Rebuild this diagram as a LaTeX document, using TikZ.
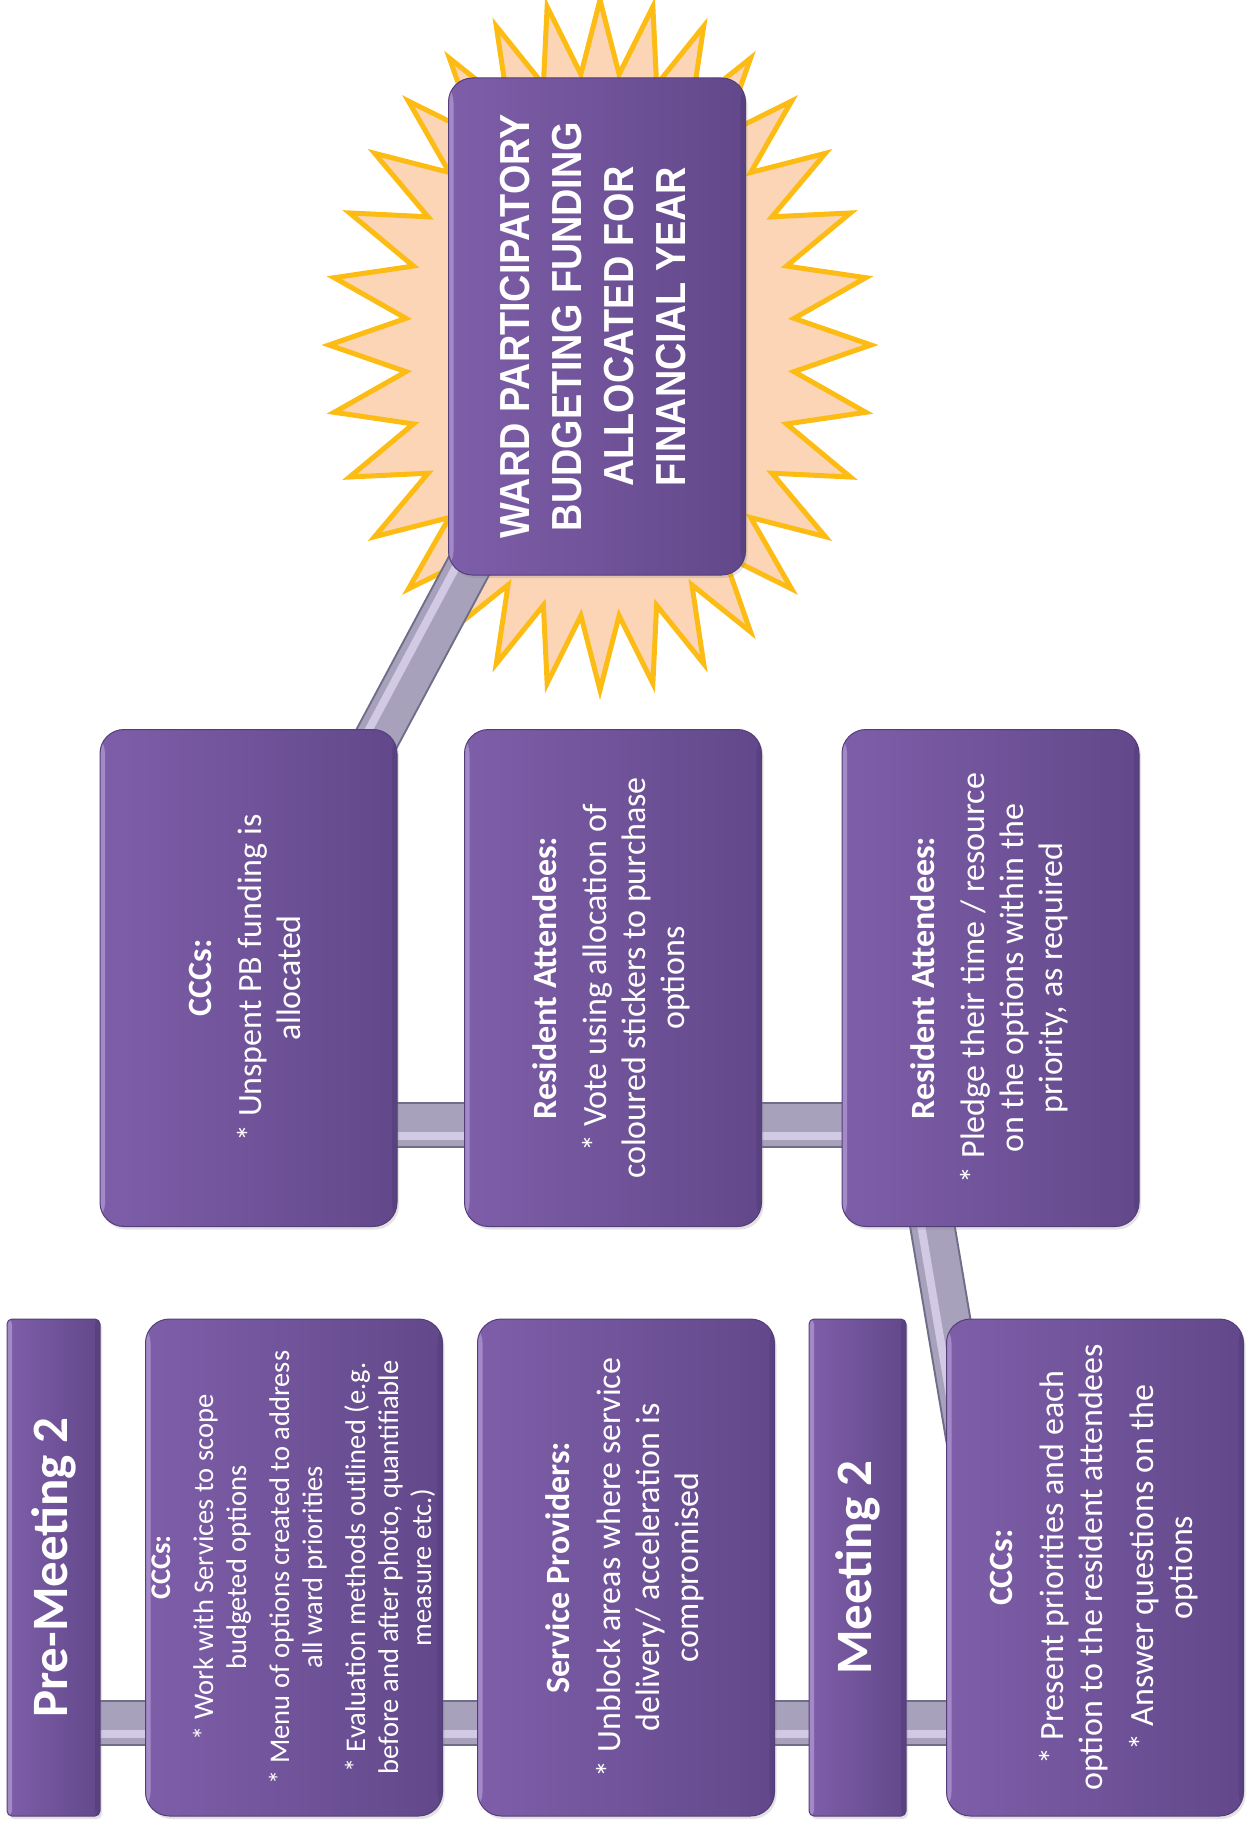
\documentclass[tikz,border=0pt]{standalone}
\usepackage{fontspec}
\setmainfont{Carlito}
\newfontfamily\titlefont{Liberation Sans}[FakeStretch=0.9]
\usetikzlibrary{calc,shadows}

\definecolor{boxlight}{RGB}{126,94,169}
\definecolor{boxdark}{RGB}{98,72,138}
\definecolor{boxedge}{RGB}{84,62,122}
\definecolor{boxhi}{RGB}{176,152,210}
\definecolor{burstfill}{RGB}{251,213,181}
\definecolor{burstline}{RGB}{252,188,20}
\definecolor{barline}{RGB}{110,110,136}
\definecolor{barbody}{RGB}{168,161,188}
\definecolor{barhilite}{RGB}{210,202,228}

\tikzset{
  card/.style={draw=boxedge, line width=1pt, left color=boxlight, right color=boxdark,
    rounded corners=24pt, inner sep=0pt, text=white,
    minimum width=297pt, minimum height=497pt,
    path picture={
      \fill[boxhi, opacity=0.75] (path picture bounding box.north west) rectangle
        ([xshift=5pt]path picture bounding box.south west);
      \fill[boxedge, opacity=0.6] ([xshift=-5pt]path picture bounding box.north east) rectangle
        (path picture bounding box.south east);
    },
    drop shadow={shadow xshift=2pt, shadow yshift=-3pt, opacity=0.22}},
  tab/.style={card, rounded corners=5pt, minimum width=95pt},
  burst/.style={draw=burstline, fill=burstfill, line width=5pt, line join=miter},
  barout/.style={draw=barline, line width=46pt},
  barmid/.style={draw=barbody, line width=42pt},
  barhi/.style={draw=barhilite, line width=8pt},
}

% thick tube-like connector between two points
\newcommand{\barlink}[2]{%
  \draw[barout] (#1) -- (#2);
  \draw[barmid] (#1) -- (#2);
  \draw[barhi] ($(#1)!11pt!-90:(#2)$) -- ($(#2)!11pt!90:(#1)$);
}
\newcommand{\bodytext}[1]{\rotatebox{90}{\fontsize{34pt}{39pt}\selectfont
  \begin{tabular}{@{}c@{}}#1\end{tabular}}}
\newcommand{\smalltext}[1]{\rotatebox{90}{\fontsize{28.5pt}{33pt}\selectfont
  \begin{tabular}{@{}c@{}}#1\end{tabular}}}
\newcommand{\tabtext}[1]{\rotatebox{90}{\bfseries\fontsize{51pt}{60pt}\selectfont #1}}

\begin{document}
\begin{tikzpicture}[x=1pt, y=-1pt]
\useasboundingbox (0,0) rectangle (1248,1822);

% starburst behind the title card
\draw[burst] (871,345)
  \foreach \k in {0,...,31}{
    -- ({600+195*cos(\k*11.25+5.625)},{345+272*sin(\k*11.25+5.625)})
    -- ({600+271*cos((\k+1)*11.25)},{345+345*sin((\k+1)*11.25)})
  } -- cycle;

% card positions
\coordinate (wardc) at (597,326.5);
\coordinate (unspentc) at (248.5,978);
\coordinate (votec) at (613,978);
\coordinate (pledgec) at (990.5,978);
\coordinate (prec) at (53.5,1567.5);
\coordinate (precccc) at (294,1567.5);
\coordinate (svcc) at (626,1567.5);
\coordinate (mtgc) at (857.5,1567.5);
\coordinate (mtgcccc) at (1095,1567.5);

% connectors (drawn first, so the cards cover their ends)
\barlink{wardc}{unspentc}
\barlink{$(unspentc)+(0,147)$}{$(pledgec)+(0,147)$}
\barlink{$(pledgec)+(-100,0)$}{$(mtgcccc)+(-105,0)$}
\barlink{$(prec)+(0,155)$}{$(mtgcccc)+(0,155)$}

% title card
\node[card] (ward) at (wardc) {\rotatebox{90}{\titlefont\bfseries\fontsize{42pt}{52pt}\selectfont
  \begin{tabular}{@{}c@{}}WARD PARTICIPATORY\\BUDGETING FUNDING\\ALLOCATED FOR\\FINANCIAL YEAR\end{tabular}}};

% upper row
\node[card] (unspent) at (unspentc) {\bodytext{\textbf{CCCs:}\\[11pt]
  * Unspent PB funding is\\allocated}};
\node[card] (vote) at (votec) {\bodytext{\textbf{Resident Attendees:}\\[11pt]
  * Vote using allocation of\\coloured stickers to purchase\\options}};
\node[card] (pledge) at (pledgec) {\bodytext{\textbf{Resident Attendees:}\\[11pt]
  * Pledge their time / resource\\on the options within the\\priority, as required}};

% lower row
\node[tab, minimum width=93pt] (pre) at (prec) {\tabtext{Pre-Meeting 2}};
\node[card] (preccc) at (precccc) {\smalltext{\textbf{CCCs:}\\[10pt]
  * Work with Services to scope\\budgeted options\\[10pt]
  * Menu of options created to address\\all ward priorities\\[10pt]
  * Evaluation methods outlined (e.g.\\before and after photo, quantifiable\\measure etc.)}};
\node[card] (svc) at (svcc) {\bodytext{\textbf{Service Providers:}\\[12pt]
  * Unblock areas where service\\delivery/ acceleration is\\compromised}};
\node[tab, minimum width=97pt] (mtg) at (mtgc) {\tabtext{Meeting 2}};
\node[card] (mtgccc) at (mtgcccc) {\bodytext{\textbf{CCCs:}\\[12pt]
  * Present priorities and each\\option to the resident attendees\\[12pt]
  * Answer questions on the\\options}};

\end{tikzpicture}
\end{document}
